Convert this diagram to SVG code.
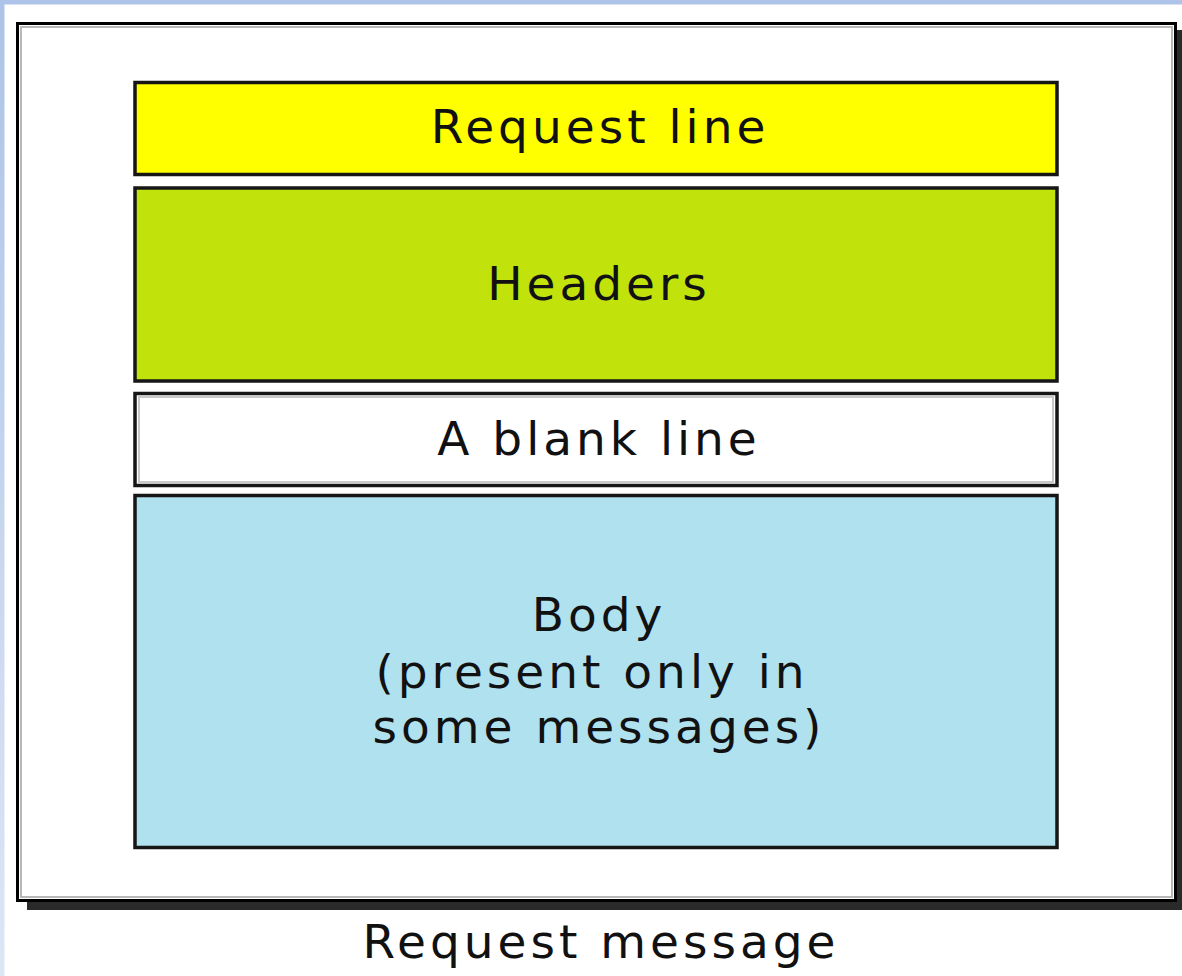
<svg xmlns="http://www.w3.org/2000/svg" width="1182" height="976" viewBox="0 0 1182 976">
<style>
.lbl{font-family:"DejaVu Sans","Open Sans",sans-serif;font-size:47px;letter-spacing:4px;fill:#111;text-anchor:middle}
.box{stroke:#161616;stroke-width:3.5}
</style>
<rect x="0" y="0" width="1182" height="976" fill="#fff"/>
<rect x="0" y="0" width="1182" height="4.5" fill="#adc3e7"/>
<defs><linearGradient id="lg" x1="0" y1="0" x2="0" y2="1"><stop offset="0" stop-color="#adc3e7"/><stop offset="1" stop-color="#dde6f5"/></linearGradient></defs>
<rect x="0" y="0" width="4.5" height="976" fill="url(#lg)"/>
<g id="frame">
<rect x="27" y="30" width="1155" height="880" fill="#2a2a2a"/>
<rect x="17.5" y="23.5" width="1158" height="877" fill="#fff" stroke="#000" stroke-width="3"/>
<rect x="21" y="27" width="1151" height="870" fill="none" stroke="#b8b8b8" stroke-width="2"/>
</g>
<g id="request-line">
<rect class="box" x="135" y="82.5" width="922" height="92" fill="#ffff00"/>
<text class="lbl" x="600" y="143">Request line</text>
</g>
<g id="headers">
<rect class="box" x="135" y="188" width="922" height="193" fill="#c2e20c"/>
<text class="lbl" x="599" y="300">Headers</text>
</g>
<g id="blank-line">
<rect class="box" x="135" y="393.5" width="922" height="92" fill="#fff"/>
<rect x="139" y="397" width="914" height="85" fill="none" stroke="#c8c8c8" stroke-width="2"/>
<text class="lbl" x="599" y="455">A blank line</text>
</g>
<g id="body">
<rect class="box" x="135" y="495.5" width="922" height="352" fill="#b0e1ef"/>
<text class="lbl" x="599" y="631">Body</text>
<text class="lbl" x="592" y="688">(present only in</text>
<text class="lbl" x="599" y="743">some messages)</text>
</g>
<g id="caption">
<text class="lbl" x="601" y="958">Request message</text>
</g>
<g id="connectors"></g>
</svg>
